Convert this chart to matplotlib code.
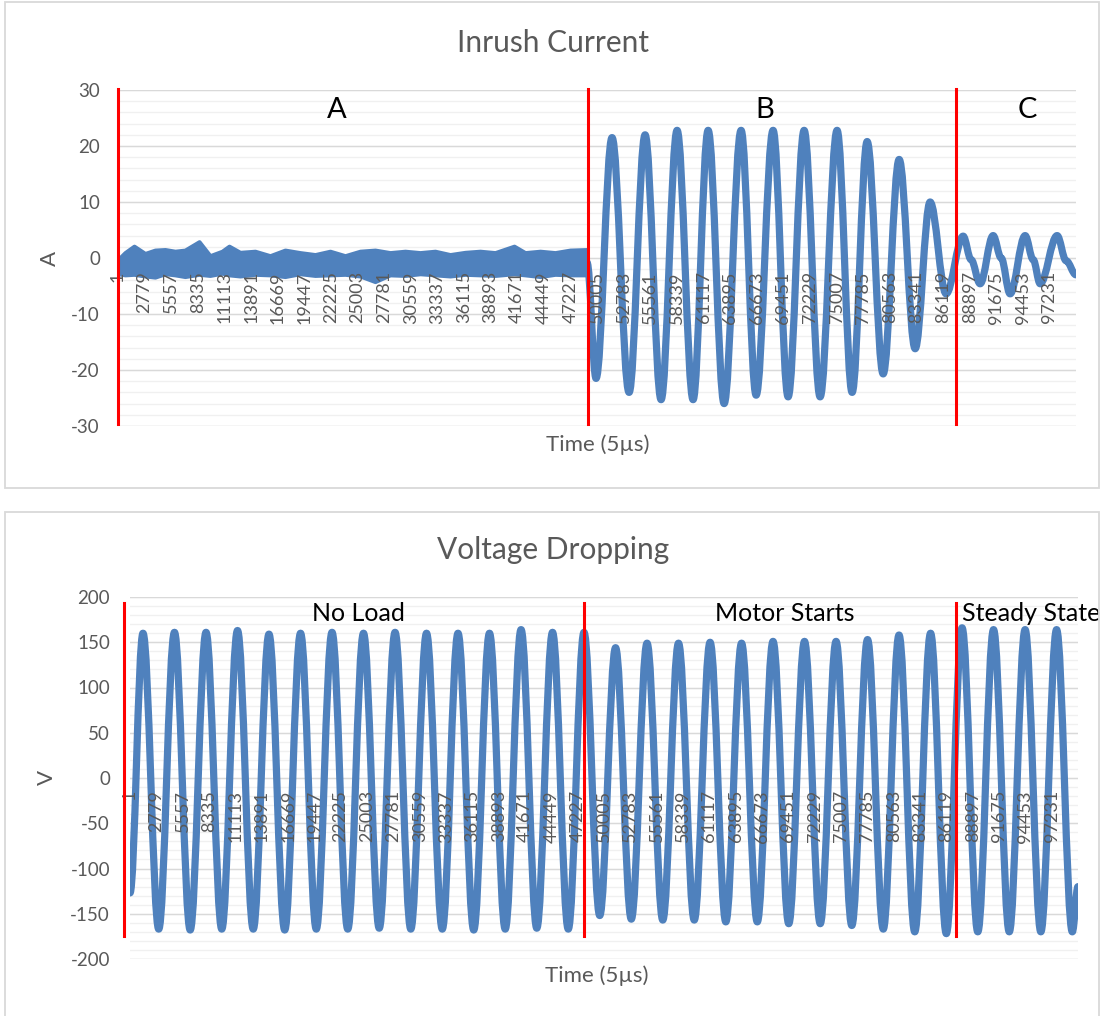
import matplotlib
matplotlib.use('Agg')
import matplotlib.pyplot as plt
from matplotlib.path import Path
from matplotlib.patches import PathPatch, Rectangle

plt.rcParams['font.family'] = ['Lato', 'DejaVu Sans']
plt.rcParams['axes.unicode_minus'] = False

#%% data (x = sample index, 5 us each)
n_samples = 100000
tick_labels = [1, 2779, 5557, 8335, 11113, 13891, 16669, 19447, 22225, 25003,
               27781, 30559, 33337, 36115, 38893, 41671, 44449, 47227, 50005,
               52783, 55561, 58339, 61117, 63895, 66673, 69451, 72229, 75007,
               77785, 80563, 83341, 86119, 88897, 91675, 94453, 97231]

# inrush current, part A: noisy band around zero (upper / lower edge)
band_x = [0, 730, 1670, 2820, 3860, 4910, 5950, 6990, 8460, 9600, 10860,
          11590, 12740, 14300, 15870, 17430, 19000, 20570, 22130, 23700,
          25260, 26830, 28400, 29960, 31530, 33090, 34660, 36230, 37790,
          39360, 41340, 42490, 44060, 45620, 47190, 48960]
band_hi = [-0.3, 0.95, 2.1, 0.8, 1.4, 1.5, 1.2, 1.4, 2.9, 0.4, 1.2, 2.1, 1.0,
           1.2, 0.4, 1.4, 0.95, 0.6, 1.2, 0.4, 1.2, 1.4, 0.95, 1.2, 0.95, 1.2,
           0.6, 1.0, 1.2, 0.95, 2.1, 0.95, 1.2, 0.95, 1.4, 1.5]
band_lo = [-2.8, -3.0, -2.9, -3.2, -3.4, -2.8, -3.0, -3.3, -2.9, -3.1, -2.7,
           -3.0, -3.2, -2.9, -3.0, -3.3, -2.8, -3.1, -3.0, -2.9, -3.2, -4.2,
           -3.0, -3.1, -2.8, -3.0, -3.2, -2.9, -3.0, -3.1, -2.8, -3.0, -3.3,
           -2.9, -3.0, -3.0]

# inrush current, parts B and C: turning points of the waveform
cur_x = [48960, 49900, 51570, 53350, 55020, 56690, 58360, 60030, 61600, 63270,
         65040, 66610, 68380, 69950, 71620, 73290, 75060, 76630, 78200, 79870,
         81540, 83210, 84770, 86440, 88220, 89050, 89990, 91350, 92190, 93120,
         94690, 95530, 96260, 98030, 98970, 100000]
cur_y = [-0.8, -21.5, 21.5, -24.0, 22.0, -25.3, 22.8, -25.3, 22.8, -26.0,
         22.8, -24.5, 22.8, -24.8, 22.8, -24.8, 22.8, -24.0, 20.8, -20.7,
         17.6, -16.2, 10.0, -6.4, 3.9, -0.3, -4.6, 4.0, 0.0, -6.4,
         4.0, -0.3, -4.6, 4.0, -0.5, -3.0]

# voltage: peaks and troughs of each cycle
volt_peak_x = [1370, 4690, 8020, 11340, 14660, 17990, 21310, 24630, 27960,
               31280, 34600, 37920, 41250, 44570, 47890, 51220, 54540, 57860,
               61190, 64510, 67830, 71150, 74480, 77800, 81120, 84450, 87770,
               91090, 94420, 97740]
volt_peak = [160, 161, 161, 163, 159, 160, 161, 160, 161, 160, 160, 160, 164,
             161, 161, 144, 149, 149, 150, 149, 151, 151, 151, 153, 158, 160,
             166, 164, 164, 164]
volt_trough_x = [3030, 6350, 9680, 13000, 16320, 19650, 22970, 26290, 29620,
                 32940, 36260, 39580, 42910, 46230, 49550, 52880, 56200, 59520,
                 62850, 66170, 69490, 72810, 76140, 79460, 82780, 86110, 89430,
                 92750, 96080, 99400]
volt_trough = [-167, -168, -167, -167, -168, -167, -167, -166, -167, -167,
               -168, -167, -166, -167, -152, -156, -157, -157, -159, -159,
               -161, -161, -163, -167, -170, -172, -170, -170, -170, -170]
volt_start = (1, -127)
volt_end = (100000, -120)

# red marker lines drawn on the charts and the section names
cur_marks = [0, 49070, 87430]
volt_marks = [-630, 47890, 87100]
cur_labels = [('A', 22860), ('B', 67550), ('C', 94900)]
volt_labels = [('No Load', 24050, 'center'), ('Motor Starts', 69100, 'center'),
               ('Steady State', 87770, 'left')]

BLUE = '#4f81bd'
GREY = '#595959'
W, H = 1102, 1016


def wave(xs, ys, k=0.36):
    # smooth curve through the turning points
    verts = [(xs[0], ys[0])]
    codes = [Path.MOVETO]
    for i in range(len(xs) - 1):
        dx = xs[i + 1] - xs[i]
        verts += [(xs[i] + k * dx, ys[i]), (xs[i + 1] - k * dx, ys[i + 1]),
                  (xs[i + 1], ys[i + 1])]
        codes += [Path.CURVE4] * 3
    return Path(verts, codes)


def style(ax, major, minor, lo, hi, pad_x, pad_y):
    ax.set_xlim(0, n_samples)
    ax.set_ylim(lo, hi)
    for s in ax.spines.values():
        s.set_visible(False)
    ax.spines['bottom'].set_position(('data', 0))
    ax.set_xticks(tick_labels)
    ax.set_xticklabels([str(t) for t in tick_labels])
    ax.set_yticks(major)
    ax.tick_params(axis='x', length=0, pad=pad_x, labelrotation=90,
                   labelsize=13, labelcolor=GREY)
    ax.tick_params(axis='y', length=0, pad=pad_y, labelsize=13.5,
                   labelcolor=GREY)
    # grid drawn under the data, labels stay on top
    for v in minor:
        ax.axhline(v, color='#f0f0f0', lw=1, zorder=0.1)
    for v in major:
        ax.axhline(v, color='#d9d9d9', lw=1, zorder=0.2)


fig = plt.figure(figsize=(W / 100, H / 100), dpi=100)
fig.add_artist(Rectangle((5 / W, 1 - 488 / H), 1094 / W, 486 / H,
                         transform=fig.transFigure, fill=False,
                         ec='#d9d9d9', lw=1.3))
fig.add_artist(Rectangle((5 / W, -0.01), 1094 / W, 1 - 512 / H + 0.01,
                         transform=fig.transFigure, fill=False,
                         ec='#d9d9d9', lw=1.3))

#%% inrush current
ax1 = fig.add_axes([118 / W, 1 - 426 / H, 958 / W, 336 / H])
style(ax1, range(-30, 31, 10), range(-30, 31, 2), -30, 30, 9.5, 13)
ax1.fill_between(band_x, band_lo, band_hi, color=BLUE, lw=3, zorder=1)
ax1.add_patch(PathPatch(wave(cur_x, cur_y), fill=False, ec=BLUE, lw=5.2,
                        joinstyle='round', capstyle='round', zorder=1))
for xm in cur_marks:
    ax1.plot([xm, xm], [30.2, -29.6], color='red', lw=2.2, clip_on=False)
for txt, xt in cur_labels:
    ax1.text(xt, 26.5, txt, ha='center', va='center', fontsize=21, color='black')

fig.text(553 / W, 1 - 43 / H, 'Inrush Current', ha='center', va='center',
         fontsize=21.5, color=GREY)
fig.text(598 / W, 1 - 445 / H, 'Time (5µs)', ha='center', va='center',
         fontsize=16, color=GREY)
fig.text(50 / W, 1 - 258 / H, 'A', ha='center', va='center', rotation=90,
         fontsize=16, color=GREY)

#%% voltage
ax2 = fig.add_axes([130 / W, 1 - 959 / H, 948 / W, 362 / H])
style(ax2, range(-200, 201, 50), range(-200, 201, 10), -200, 200, 8.7, 14.4)
vx = [volt_start[0]]
vy = [volt_start[1]]
for px, pv, tx, tv in zip(volt_peak_x, volt_peak, volt_trough_x, volt_trough):
    vx += [px, tx]
    vy += [pv, tv]
vx.append(volt_end[0])
vy.append(volt_end[1])
ax2.add_patch(PathPatch(wave(vx, vy), fill=False, ec=BLUE, lw=5.2,
                        joinstyle='round', capstyle='round', zorder=1))
for xm in volt_marks:
    ax2.plot([xm, xm], [193.4, -174.6], color='red', lw=2.2, clip_on=False)
for txt, xt, al in volt_labels:
    ax2.text(xt, 182, txt, ha=al, va='center', fontsize=18, color='black',
             clip_on=False)

fig.text(553 / W, 1 - 550 / H, 'Voltage Dropping', ha='center', va='center',
         fontsize=21.5, color=GREY)
fig.text(597 / W, 1 - 976 / H, 'Time (5µs)', ha='center', va='center',
         fontsize=16, color=GREY)
fig.text(47 / W, 1 - 777 / H, 'V', ha='center', va='center', rotation=90,
         fontsize=16, color=GREY)

fig.savefig('out.png', dpi=100)
